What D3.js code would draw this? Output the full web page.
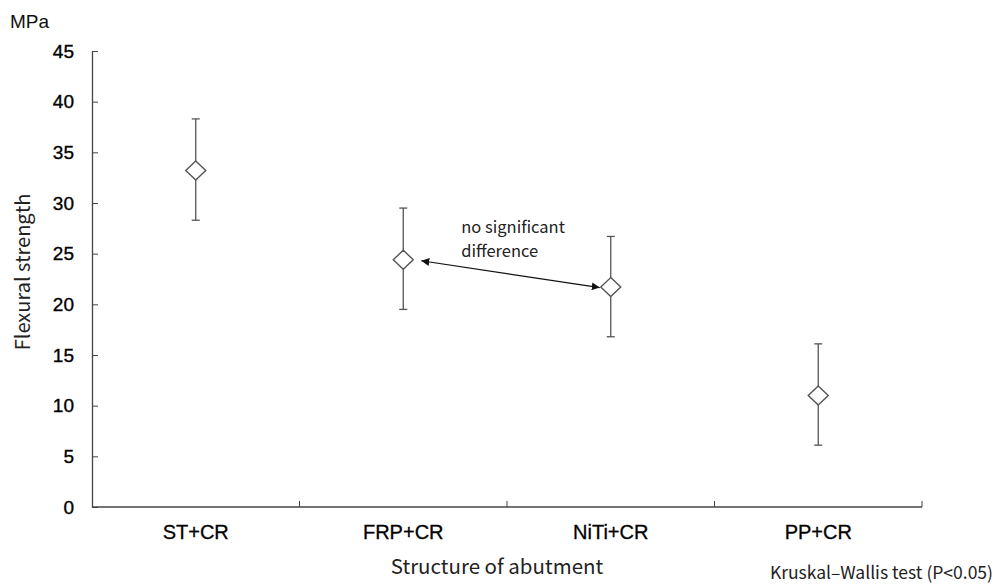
<!DOCTYPE html>
<html>
<head>
<meta charset="utf-8">
<script src="https://cdn.jsdelivr.net/npm/d3@7"></script>
<style>
  body { margin: 0; background: #fff; }
  svg { display: block; }
  .tick-label { font-family: "Liberation Sans", Arial, sans-serif; font-size: 19px; fill: #000; stroke: #000; stroke-width: 0.35px; }
  .cat-label { font-family: "Liberation Sans", Arial, sans-serif; font-size: 20px; fill: #000; stroke: #000; stroke-width: 0.3px; }
  .jp { font-family: "Noto Sans CJK JP", "DejaVu Sans", sans-serif; fill: #222; }
</style>
</head>
<body>
<div id="chart"></div>
<script>
// ==================================================
// DATA
// ==================================================

var categories = ["ST+CR", "FRP+CR", "NiTi+CR", "PP+CR"];
var means      = [33.2, 24.4, 21.7, 11.0];
var upper      = [38.3, 29.5, 26.7, 16.1];
var lower      = [28.3, 19.5, 16.8, 6.1];
var yTicks     = [0, 5, 10, 15, 20, 25, 30, 35, 40, 45];

// ==================================================
// CANVAS
// ==================================================

var W = 997, H = 584;
var margin = { top: 51, left: 92, right: 75, bottom: 77 };
var width  = W - margin.left - margin.right;
var height = H - margin.top - margin.bottom;

var svg = d3.select("#chart").append("svg")
    .attr("width", W)
    .attr("height", H);

var visual = svg.append("g")
    .attr("transform", "translate(" + margin.left + "," + margin.top + ")");

// Scales
var x = d3.scaleBand()
    .domain(categories)
    .range([0, width]);

var y = d3.scaleLinear()
    .domain([0, 45])
    .range([height, 0]);

var axisColor = "#444";

// Y axis (ticks point inward)
var yAxis = visual.append("g")
    .call(d3.axisLeft(y).tickValues(yTicks).tickSizeInner(-6).tickSizeOuter(0).tickPadding(18));
yAxis.select(".domain").attr("stroke", axisColor).attr("stroke-width", 1.3);
yAxis.selectAll(".tick line").attr("stroke", axisColor);
yAxis.selectAll(".tick text").attr("class", "tick-label").attr("fill", "#000");

// X axis: boundaries between categories, ticks pointing up
var bounds = [0, 1, 2, 3, 4].map(function(i) { return i * x.step(); });
visual.append("line")
    .attr("x1", 0).attr("x2", width)
    .attr("y1", height).attr("y2", height)
    .attr("stroke", axisColor).attr("stroke-width", 1.3);
visual.selectAll(".xtick")
    .data(bounds.slice(1))
    .enter().append("line")
        .attr("class", "xtick")
        .attr("x1", function(d) { return d; })
        .attr("x2", function(d) { return d; })
        .attr("y1", height).attr("y2", height - 6)
        .attr("stroke", axisColor);

visual.selectAll(".xlabel")
    .data(categories)
    .enter().append("text")
        .attr("class", "cat-label")
        .attr("x", function(d) { return x(d) + x.bandwidth() / 2; })
        .attr("y", height + 32)
        .attr("text-anchor", "middle")
        .text(function(d) { return d; });

// Error bars
var rows = categories.map(function(c, i) {
    return { cat: c, mean: means[i], hi: upper[i], lo: lower[i] };
});
var cx = function(d) { return x(d.cat) + x.bandwidth() / 2; };
var barColor = "#555";

var bars = visual.selectAll(".err")
    .data(rows)
    .enter().append("g")
        .attr("class", "err");

bars.append("line")
    .attr("x1", cx).attr("x2", cx)
    .attr("y1", function(d) { return y(d.hi); })
    .attr("y2", function(d) { return y(d.lo); })
    .attr("stroke", barColor).attr("stroke-width", 1.3);

bars.append("line")
    .attr("x1", function(d) { return cx(d) - 4; })
    .attr("x2", function(d) { return cx(d) + 4; })
    .attr("y1", function(d) { return y(d.hi); })
    .attr("y2", function(d) { return y(d.hi); })
    .attr("stroke", barColor).attr("stroke-width", 1.3);

bars.append("line")
    .attr("x1", function(d) { return cx(d) - 4; })
    .attr("x2", function(d) { return cx(d) + 4; })
    .attr("y1", function(d) { return y(d.lo); })
    .attr("y2", function(d) { return y(d.lo); })
    .attr("stroke", barColor).attr("stroke-width", 1.3);

// Diamonds
bars.append("path")
    .attr("d", "M0,-9.5L10,0L0,9.5L-10,0Z")
    .attr("transform", function(d) { return "translate(" + cx(d) + "," + y(d.mean) + ")"; })
    .attr("fill", "#fff")
    .attr("stroke", barColor)
    .attr("stroke-width", 1.4);

// Annotation arrow between FRP+CR and NiTi+CR
var defs = svg.append("defs");
defs.append("marker")
    .attr("id", "ah")
    .attr("viewBox", "0 0 10 10")
    .attr("refX", 10).attr("refY", 5)
    .attr("markerWidth", 8).attr("markerHeight", 8)
    .attr("markerUnits", "userSpaceOnUse")
    .attr("orient", "auto-start-reverse")
    .append("path")
        .attr("d", "M0,0L10,5L0,10Z")
        .attr("fill", "#111");

var a = rows[1], b = rows[2];
visual.append("line")
    .attr("x1", cx(a) + 18).attr("y1", y(a.mean) + 1)
    .attr("x2", cx(b) - 11).attr("y2", y(b.mean) + 0.5)
    .attr("stroke", "#111").attr("stroke-width", 1.2)
    .attr("marker-start", "url(#ah)")
    .attr("marker-end", "url(#ah)");

visual.append("text")
    .attr("class", "jp")
    .attr("x", cx(a) + 58).attr("y", y(a.mean) - 27)
    .attr("font-size", "16.5px")
    .text("no significant");
visual.append("text")
    .attr("class", "jp")
    .attr("x", cx(a) + 58).attr("y", y(a.mean) - 3)
    .attr("font-size", "16.5px")
    .text("difference");

// Labels
svg.append("text")
    .attr("x", 10).attr("y", 28)
    .attr("font-family", "Liberation Sans, Arial, sans-serif")
    .attr("font-size", "19px")
    .attr("fill", "#111")
    .text("MPa");

svg.append("text")
    .attr("class", "jp")
    .attr("transform", "translate(30," + 272 + ") rotate(-90)")
    .attr("text-anchor", "middle")
    .attr("font-size", "20px")
    .text("Flexural strength");

svg.append("text")
    .attr("class", "jp")
    .attr("x", 497).attr("y", 574)
    .attr("text-anchor", "middle")
    .attr("font-size", "20.5px")
    .text("Structure of abutment");

svg.append("text")
    .attr("class", "jp")
    .attr("x", 993).attr("y", 579)
    .attr("text-anchor", "end")
    .attr("font-size", "17.5px")
    .text("Kruskal\u2013Wallis test (P<0.05)");
</script>
</body>
</html>
